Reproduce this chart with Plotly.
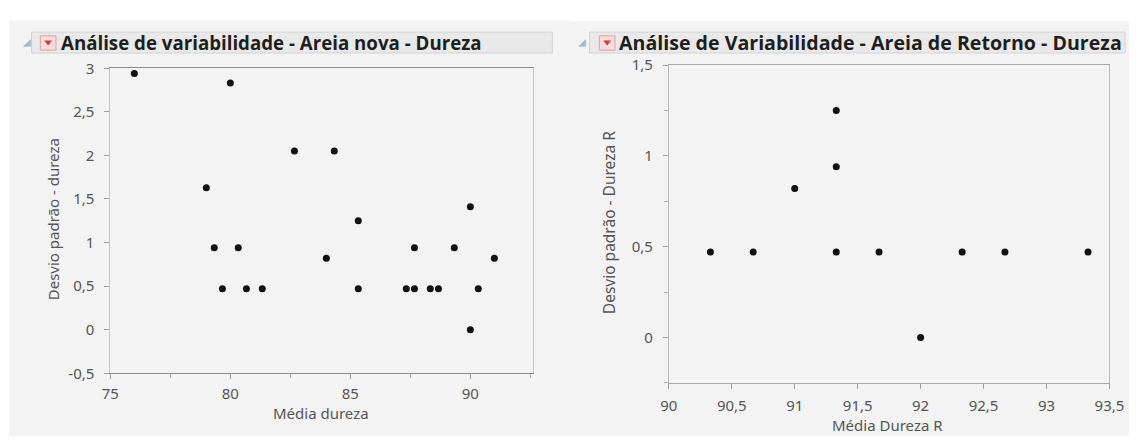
import plotly.graph_objects as go

# ---- data: left panel (new sand) ----
media_dureza = [76, 80, 79, 79.33, 80.33, 79.67, 80.67, 81.33, 82.67, 84.33, 84,
                85.33, 85.33, 87.67, 87.33, 87.67, 88.33, 88.67, 89.33, 90, 90,
                90.33, 91]
desvio_dureza = [2.94, 2.83, 1.63, 0.94, 0.94, 0.47, 0.47, 0.47, 2.05, 2.05, 0.82,
                 1.25, 0.47, 0.94, 0.47, 0.47, 0.47, 0.47, 0.94, 1.41, 0,
                 0.47, 0.82]

# ---- data: right panel (return sand) ----
media_dureza_r = [90.33, 90.67, 91, 91.33, 91.33, 91.33, 91.67, 92, 92.33, 92.67, 93.33]
desvio_dureza_r = [0.47, 0.47, 0.82, 1.25, 0.94, 0.47, 0.47, 0, 0.47, 0.47, 0.47]

# left y axis ticks (plain hyphen for the negative label)
y_ticks_esq = [-0.5, 0, 0.5, 1, 1.5, 2, 2.5, 3]
y_ticktext_esq = ["-0,5", "0", "0,5", "1", "1,5", "2", "2,5", "3"]

titulo_esq = "Análise de variabilidade - Areia nova - Dureza"
titulo_dir = "Análise de Variabilidade - Areia de Retorno - Dureza"

W, H = 1144, 445


def fx(px):
    return px / W


def fy(py):
    return 1 - py / H


BG = "#f3f3f3"
TICK_FONT = dict(family="Noto Sans", size=15, color="#555555")
TITLE_FONT = dict(family="Noto Sans", size=15, color="#555555")
MARKER = dict(size=7, color="#111111")

fig = go.Figure()
fig.add_trace(go.Scatter(x=media_dureza, y=desvio_dureza, mode="markers",
                         marker=MARKER, xaxis="x", yaxis="y", hoverinfo="x+y"))
fig.add_trace(go.Scatter(x=media_dureza_r, y=desvio_dureza_r, mode="markers",
                         marker=MARKER, xaxis="x2", yaxis="y2", hoverinfo="x+y"))

axis_common = dict(showgrid=False, zeroline=False, showline=True, mirror=True,
                   ticks="outside", ticklen=5, tickcolor="#a0a0a0",
                   tickfont=TICK_FONT, fixedrange=True)

fig.update_layout(
    width=W, height=H,
    margin=dict(l=0, r=0, t=0, b=0),
    paper_bgcolor="white", plot_bgcolor="white",
    showlegend=False,
    separators=", ",
    xaxis=dict(domain=[fx(103.5), fx(535)], range=[75, 92.6], dtick=5, tick0=75,
               linecolor="#8c8c8c", anchor="y", ticklabelstandoff=2,
               minor=dict(dtick=2.5, tick0=75, ticks="outside", ticklen=4,
                          tickcolor="#b0b0b0"),
               **axis_common),
    yaxis=dict(domain=[fy(379.3), fy(60)], range=[-0.5, 3],
               tickmode="array", tickvals=y_ticks_esq, ticktext=y_ticktext_esq,
               linecolor="#c4c4c4", anchor="x", ticklabelstandoff=7, **axis_common),
    xaxis2=dict(domain=[fx(674), fx(1124)], range=[90, 93.5], dtick=0.5, tick0=90,
                linecolor="#a8a8a8", anchor="y2", ticklabelstandoff=4, **axis_common),
    yaxis2=dict(domain=[fy(389.3), fy(56.7)], range=[-0.25, 1.5], dtick=0.5, tick0=0,
                linecolor="#b8b8b8", anchor="x2", ticklabelstandoff=7,
                minor=dict(dtick=0.25, tick0=0, ticks="outside", ticklen=4,
                           tickcolor="#b0b0b0"),
                **axis_common),
)

shapes = []
# light grey report panels below a white top strip
shapes.append(dict(type="rect", xref="paper", yref="paper", x0=0, x1=fx(577),
                   y0=0, y1=fy(10), fillcolor=BG, line=dict(width=0), layer="below"))
shapes.append(dict(type="rect", xref="paper", yref="paper", x0=fx(577), x1=1,
                   y0=0, y1=fy(11), fillcolor=BG, line=dict(width=0), layer="below"))


def header(x_tri, x_btn, x_bar0, x_bar1, x_text, text, size):
    # title bar
    shapes.append(dict(type="rect", xref="paper", yref="paper",
                       x0=fx(x_bar0), x1=fx(x_bar1), y0=fy(44), y1=fy(22),
                       fillcolor="#e9e9e9", line=dict(color="#d2d2d2", width=1)))
    # disclosure triangle
    shapes.append(dict(type="path", xref="paper", yref="paper",
                       path=f"M {fx(x_tri + 7)},{fy(30)} L {fx(x_tri + 7)},{fy(37)} "
                            f"L {fx(x_tri)},{fy(37)} Z",
                       fillcolor="#9fbfd2", line=dict(color="#8aa8bb", width=0.5)))
    # red popup button
    shapes.append(dict(type="rect", xref="paper", yref="paper",
                       x0=fx(x_btn), x1=fx(x_btn + 16), y0=fy(41), y1=fy(26),
                       fillcolor="#f6dcdc", line=dict(color="#e2a0a0", width=1)))
    shapes.append(dict(type="path", xref="paper", yref="paper",
                       path=f"M {fx(x_btn + 4)},{fy(31)} L {fx(x_btn + 12)},{fy(31)} "
                            f"L {fx(x_btn + 8)},{fy(36)} Z",
                       fillcolor="#d23a3a", line=dict(width=0)))
    return dict(text=f"<b>{text}</b>", xref="paper", yref="paper",
                x=fx(x_text), y=fy(33.5), xanchor="left", yanchor="middle",
                showarrow=False,
                font=dict(family="Open Sans", size=size, color="#1e1e1e"))


annotations = [
    header(15, 32, 23, 555, 51, titulo_esq, 18.7),
    header(582, 603, 593, 1140, 621, titulo_dir, 19.6),
    # axis titles
    dict(text="Média dureza", xref="paper", yref="paper", x=fx(318.5), y=fy(421),
         xanchor="center", yanchor="middle", showarrow=False, font=TITLE_FONT),
    dict(text="Desvio padrão - dureza", xref="paper", yref="paper", x=fx(45), y=fy(218),
         xanchor="center", yanchor="middle", textangle=-90, showarrow=False,
         font=TITLE_FONT),
    dict(text="Média Dureza R", xref="paper", yref="paper", x=fx(897), y=fy(433),
         xanchor="center", yanchor="middle", showarrow=False, font=TITLE_FONT),
    dict(text="Desvio padrão - Dureza R", xref="paper", yref="paper", x=fx(613), y=fy(222),
         xanchor="center", yanchor="middle", textangle=-90, showarrow=False,
         font=dict(TITLE_FONT, size=15.5)),
]

fig.update_layout(shapes=shapes, annotations=annotations)
fig.write_html("out.html")
